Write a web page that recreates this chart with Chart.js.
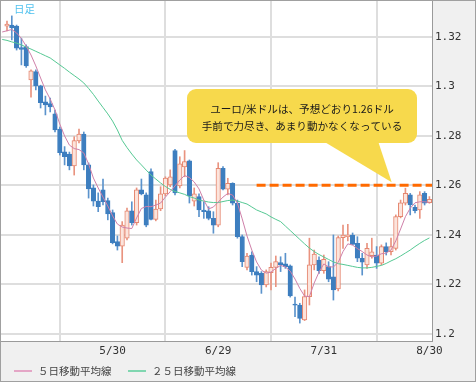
<!DOCTYPE html>
<html><head><meta charset="utf-8">
<script src="https://cdn.jsdelivr.net/npm/chart.js@4.4.1/dist/chart.umd.min.js"></script>
<style>
html,body{margin:0;padding:0;background:#fff;}
#wrap{position:relative;width:474px;height:380px;border:1px solid #a0a0a0;background:#f0f0f0;overflow:hidden;}
canvas{display:block;}
#legend{position:absolute;left:0;top:362px;width:474px;height:16px;font:10.5px "Noto Sans CJK JP",sans-serif;color:#444;}
.item{position:absolute;top:0;white-space:nowrap;line-height:16px;}
.swatch{position:absolute;top:7px;width:18px;height:2px;}
</style></head>
<body>
<div id="wrap">
<canvas id="c" width="474" height="380"></canvas>
<div id="legend"></div>
</div>
<script>
// ---- data ----
const xTickIndex  = [0, 22, 44, 66, 88];
const xTickLabels = ['', '5/30', '6/29', '7/31', '8/30'];
const yTickValues = [1.2, 1.22, 1.24, 1.26, 1.28, 1.3, 1.32];

const opens = [1.3243,1.3247,1.3243,1.3156,1.3160,1.3025,1.3059,1.3001,1.2937,1.2930,
1.2888,1.2827,1.2735,1.2726,1.2678,1.2779,1.2807,1.2682,1.2589,1.2536,
1.2581,1.2538,1.2489,1.2372,1.2354,1.2386,1.2496,1.2449,1.2581,1.2561,
1.2655,1.2462,1.2504,1.2565,1.2601,1.2740,1.2597,1.2674,1.2698,1.2536,
1.2554,1.2500,1.2496,1.2466,1.2439,1.2668,1.2584,1.2608,1.2527,1.2392,
1.2268,1.2318,1.2251,1.2244,1.2197,1.2247,1.2268,1.2287,1.2282,1.2274,
1.2120,1.2116,1.2056,1.2150,1.2278,1.2298,1.2255,1.2271,1.2230,1.2181,
1.2388,1.2392,1.2399,1.2365,1.2305,1.2278,1.2315,1.2318,1.2285,1.2352,
1.2331,1.2345,1.2473,1.2527,1.2561,1.2511,1.2500,1.2567,1.2529];
const highs = [1.3263,1.3284,1.3247,1.3194,1.3167,1.3066,1.3066,1.3004,1.2960,1.2952,
1.2904,1.2835,1.2756,1.2734,1.2796,1.2827,1.2815,1.2690,1.2601,1.2569,
1.2625,1.2548,1.2500,1.2395,1.2453,1.2508,1.2533,1.2589,1.2625,1.2569,
1.2666,1.2540,1.2594,1.2634,1.2662,1.2745,1.2715,1.2740,1.2702,1.2589,
1.2565,1.2533,1.2513,1.2493,1.2691,1.2675,1.2628,1.2610,1.2540,1.2399,
1.2325,1.2331,1.2271,1.2251,1.2258,1.2285,1.2314,1.2311,1.2325,1.2278,
1.2148,1.2123,1.2177,1.2386,1.2338,1.2311,1.2318,1.2291,1.2399,1.2395,
1.2439,1.2442,1.2407,1.2392,1.2325,1.2365,1.2386,1.2352,1.2359,1.2367,
1.2386,1.2480,1.2540,1.2588,1.2567,1.2520,1.2574,1.2574,1.2554];
const lows = [1.3223,1.3187,1.3146,1.3086,1.3076,1.2956,1.2985,1.2912,1.2884,1.2896,
1.2815,1.2722,1.2682,1.2662,1.2641,1.2771,1.2662,1.2548,1.2516,1.2493,
1.2520,1.2460,1.2363,1.2338,1.2287,1.2379,1.2439,1.2439,1.2561,1.2432,
1.2460,1.2456,1.2497,1.2557,1.2594,1.2561,1.2589,1.2634,1.2528,1.2516,
1.2473,1.2466,1.2460,1.2406,1.2432,1.2581,1.2561,1.2520,1.2386,1.2271,
1.2258,1.2237,1.2210,1.2163,1.2189,1.2177,1.2190,1.2251,1.2264,1.2148,
1.2069,1.2043,1.2053,1.2116,1.2258,1.2244,1.2244,1.2210,1.2136,1.2173,
1.2345,1.2375,1.2359,1.2291,1.2237,1.2264,1.2305,1.2264,1.2278,1.2318,
1.2318,1.2338,1.2468,1.2520,1.2480,1.2488,1.2466,1.2520,1.2527];
const closes = [1.3251,1.3235,1.3154,1.3149,1.3082,1.3062,1.3001,1.2933,1.2924,1.2916,
1.2823,1.2731,1.2715,1.2678,1.2780,1.2807,1.2682,1.2585,1.2536,1.2513,
1.2533,1.2484,1.2368,1.2354,1.2439,1.2496,1.2449,1.2581,1.2565,1.2439,
1.2462,1.2504,1.2565,1.2629,1.2634,1.2569,1.2686,1.2695,1.2557,1.2565,
1.2500,1.2493,1.2466,1.2439,1.2668,1.2584,1.2608,1.2527,1.2392,1.2291,
1.2314,1.2251,1.2237,1.2197,1.2251,1.2268,1.2291,1.2278,1.2271,1.2153,
1.2115,1.2062,1.2150,1.2278,1.2322,1.2255,1.2301,1.2220,1.2177,1.2388,
1.2399,1.2399,1.2361,1.2305,1.2289,1.2345,1.2331,1.2285,1.2352,1.2331,
1.2352,1.2473,1.2529,1.2567,1.2520,1.2497,1.2561,1.2527,1.2543];

// moving averages, starting one bar before the first candle
const maFirstIndex = -1;
const ma5 = [1.3219,1.3224,1.3229,1.3215,1.3193,1.3162,1.3126,1.3082,1.3033,1.2985,1.2948,
1.2904,1.2847,1.2799,1.2762,1.2748,1.2744,1.2730,1.2686,1.2629,1.2589,
1.2552,1.2516,1.2476,1.2443,1.2431,1.2427,1.2425,1.2468,1.2506,1.2514,
1.2513,1.2520,1.2528,1.2552,1.2574,1.2597,1.2621,1.2639,1.2631,1.2613,
1.2585,1.2540,1.2504,1.2512,1.2532,1.2552,1.2567,1.2560,1.2528,1.2464,
1.2395,1.2338,1.2290,1.2257,1.2245,1.2249,1.2264,1.2276,1.2270,1.2253,
1.2221,1.2183,1.2152,1.2150,1.2205,1.2249,1.2282,1.2270,1.2270,1.2288,
1.2332,1.2363,1.2358,1.2344,1.2332,1.2318,1.2310,1.2314,1.2323,1.2326,
1.2338,1.2375,1.2423,1.2473,1.2507,1.2529,1.2533,1.2533,1.2531];
const ma25 = [1.3189,1.3185,1.3179,1.3174,1.3167,1.3158,1.3150,1.3141,1.3132,1.3123,1.3114,
1.3100,1.3086,1.3072,1.3057,1.3043,1.3029,1.3013,1.2991,1.2967,1.2940,
1.2914,1.2888,1.2859,1.2823,1.2781,1.2752,1.2726,1.2702,1.2682,1.2661,
1.2641,1.2625,1.2609,1.2595,1.2583,1.2575,1.2569,1.2563,1.2554,1.2548,
1.2540,1.2536,1.2532,1.2530,1.2530,1.2534,1.2538,1.2540,1.2536,1.2530,
1.2524,1.2512,1.2500,1.2492,1.2484,1.2472,1.2462,1.2453,1.2435,1.2417,
1.2399,1.2381,1.2363,1.2346,1.2332,1.2320,1.2310,1.2300,1.2290,1.2283,
1.2280,1.2276,1.2272,1.2268,1.2266,1.2266,1.2268,1.2272,1.2276,1.2284,
1.2294,1.2303,1.2314,1.2326,1.2338,1.2352,1.2365,1.2377,1.2387];

const targetLevel = 1.26;
const targetFromIndex = 52;
const periodLabel = '日足';
const calloutLines = ['ユーロ/米ドルは、予想どおり1.26ドル', '手前で力尽き、あまり動かなくなっている'];
const legendNames = ['５日移動平均線', '２５日移動平均線'];

// ---- axis ranges ----
const X_MIN = -1.25, X_MAX = 88.54;
const Y_MIN = 1.19706, Y_MAX = 1.33442;

// ---- colours ----
const UP_LINE = '#e5866f', UP_FILL = '#fce4dc', DOWN = '#3d7ebf';
const UP_WICK = '#e9937f', DOWN_WICK = '#5b93cc';
const MA5_COLOR = '#cf80a9', MA25_COLOR = '#56c994';

const isUp = i => closes[i] >= opens[i];
const bodyData = opens.map((o, i) => ({x: i, y: [o, closes[i]]}));
const wickData = highs.map((h, i) => ({x: i, y: [lows[i], h]}));
const ma5Data = ma5.map((v, k) => ({x: k + maFirstIndex, y: v}));
const ma25Data = ma25.map((v, k) => ({x: k + maFirstIndex, y: v}));
const targetData = [{x: targetFromIndex, y: targetLevel}, {x: X_MAX, y: targetLevel}];

const plotBg = {
  id: 'plotBg',
  beforeDraw(chart) {
    const {ctx, chartArea: a} = chart;
    ctx.save();
    ctx.fillStyle = '#ffffff';
    ctx.fillRect(a.left, a.top, a.right - a.left, a.bottom - a.top);
    ctx.restore();
  }
};

function roundRectPath(c, x, y, w, h, r) {
  c.moveTo(x + r, y);
  c.lineTo(x + w - r, y); c.arcTo(x + w, y, x + w, y + r, r);
  c.lineTo(x + w, y + h - r); c.arcTo(x + w, y + h, x + w - r, y + h, r);
  c.lineTo(x + r, y + h); c.arcTo(x, y + h, x, y + h - r, r);
  c.lineTo(x, y + r); c.arcTo(x, y, x + r, y, r);
  c.closePath();
}

const callout = {
  id: 'callout',
  afterDatasetsDraw(chart) {
    const c = chart.ctx;
    c.save();
    c.fillStyle = '#f7d94c';
    c.beginPath();
    roundRectPath(c, 186, 88, 230, 54, 9);
    c.fill();
    c.beginPath();
    c.moveTo(322, 140); c.lineTo(377, 140); c.lineTo(390.7, 181.3); c.closePath();
    c.fill();
    c.fillStyle = '#1a1a1a';
    c.font = '10.6px "Noto Sans CJK JP"';
    c.textAlign = 'center';
    c.textBaseline = 'middle';
    c.fillText(calloutLines[0], 301, 107.5);
    c.fillText(calloutLines[1], 301, 124.8);
    c.fillStyle = '#4fc1ee';
    c.textAlign = 'left';
    c.font = '10.5px "Noto Sans CJK JP"';
    c.fillText(periodLabel, 13, 8.5);
    c.restore();
  }
};

new Chart(document.getElementById('c'), {
  type: 'bar',
  data: {
    datasets: [
      { type: 'bar', label: 'wick', data: wickData, grouped: false, barThickness: 1, order: 5,
        backgroundColor: ctx => isUp(ctx.dataIndex) ? UP_WICK : DOWN_WICK, borderWidth: 0 },
      { type: 'bar', label: 'body', data: bodyData, grouped: false, barThickness: 4.5, order: 4,
        backgroundColor: ctx => isUp(ctx.dataIndex) ? UP_FILL : DOWN,
        borderColor: ctx => isUp(ctx.dataIndex) ? UP_LINE : DOWN,
        borderWidth: 1, borderSkipped: false },
      { type: 'line', label: legendNames[1], data: ma25Data, borderColor: MA25_COLOR, borderWidth: 1,
        pointRadius: 0, tension: 0, fill: false, order: 3 },
      { type: 'line', label: legendNames[0], data: ma5Data, borderColor: MA5_COLOR, borderWidth: 1,
        pointRadius: 0, tension: 0, fill: false, order: 2 },
      { type: 'line', label: 'target', data: targetData, borderColor: '#ff6a00', borderWidth: 3,
        borderDash: [9, 4], pointRadius: 0, fill: false, order: 1 }
    ]
  },
  options: {
    responsive: false,
    animation: false,
    events: [],
    layout: { padding: { left: 0, right: 0, top: 0, bottom: 20 } },
    plugins: { legend: { display: false }, tooltip: { enabled: false } },
    scales: {
      x: {
        type: 'linear', min: X_MIN, max: X_MAX, offset: false,
        afterBuildTicks: s => { s.ticks = xTickIndex.map(v => ({value: v})); },
        afterFit: s => { s.height = 20; s.paddingLeft = 0; s.paddingRight = 0; },
        ticks: {
          autoSkip: false, maxRotation: 0, padding: 4, color: '#333',
          font: { family: 'DejaVu Sans Mono', size: 11 },
          callback: v => { const k = xTickIndex.indexOf(v); return k >= 0 ? xTickLabels[k] : ''; }
        },
        grid: { color: '#dedede', lineWidth: 2, drawTicks: false },
        border: { display: true, color: '#9a9a9a', width: 1 }
      },
      y: {
        type: 'linear', position: 'right', min: Y_MIN, max: Y_MAX,
        afterBuildTicks: s => { s.ticks = yTickValues.map(v => ({value: v})); },
        afterFit: s => { s.width = 43; s.paddingTop = 0; s.paddingBottom = 0; },
        ticks: {
          padding: 3, color: '#333',
          font: { family: 'DejaVu Sans Mono', size: 11 },
          callback: v => String(v)
        },
        grid: { color: '#dedede', lineWidth: 2, drawTicks: false },
        border: { display: true, color: '#9a9a9a', width: 1 }
      }
    }
  },
  plugins: [plotBg, callout]
});

// legend (HTML text)
const legend = document.getElementById('legend');
const legendItems = [
  { name: legendNames[0], color: '#e4a6c6', swatchLeft: 13, textLeft: 37 },
  { name: legendNames[1], color: '#80d6b0', swatchLeft: 126.5, textLeft: 151 }
];
legendItems.forEach(it => {
  const sw = document.createElement('div');
  sw.className = 'swatch';
  sw.style.left = it.swatchLeft + 'px';
  sw.style.background = it.color;
  legend.appendChild(sw);
  const t = document.createElement('div');
  t.className = 'item';
  t.style.left = it.textLeft + 'px';
  t.textContent = it.name;
  legend.appendChild(t);
});
</script>
</body></html>
